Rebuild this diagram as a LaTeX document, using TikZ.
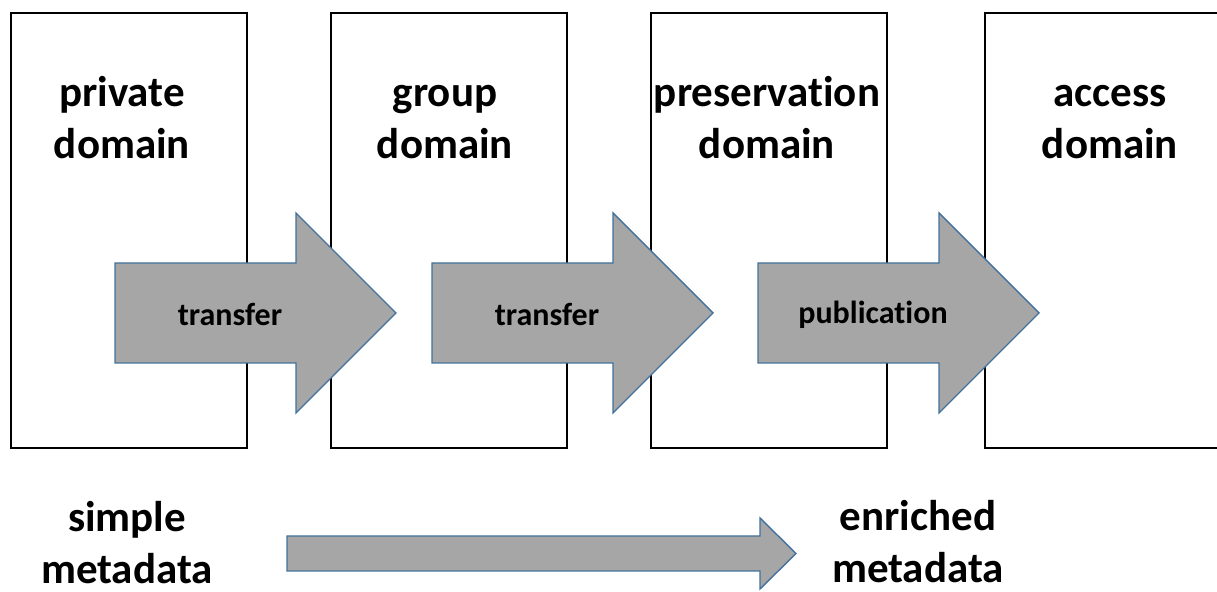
\documentclass[tikz,border=0pt]{standalone}
\usepackage{fontspec}
\setmainfont[RawFeature={-liga;-clig;-calt;-dlig}]{Carlito}
\usetikzlibrary{positioning}
\definecolor{arrowfill}{HTML}{A6A6A6}
\definecolor{arrowline}{HTML}{41719C}

\begin{document}
\begin{tikzpicture}[
        x=0.5pt, y=-0.5pt,
        domainbox/.style={rectangle, draw=black, line width=1.1pt, minimum width=118pt, minimum height=217.5pt, anchor=north west, inner sep=0pt},
        domainlabel/.style={align=center, anchor=base, inner sep=0pt, font=\fontsize{21.5}{26}\selectfont\bfseries},
        blockarrow/.style={draw=arrowline, fill=arrowfill, line width=0.7pt, line join=miter},
        arrowlabel/.style={inner sep=0pt, font=\fontsize{16}{19}\selectfont\bfseries}
    ]
    \useasboundingbox (0,0) rectangle (1217,592);

    % Domains
    \node[domainbox] (private) at (10,12) {};
    \node[domainbox] (group) at (330,12) {};
    \node[domainbox] (preservation) at (650,12) {};
    \node[domainbox] (access) at (984,12) {};

    \node[domainlabel] (private-label) at (122,159) {private\\domain};
    \node[domainlabel] (group-label) at (445,159) {group\\domain};
    \node[domainlabel] (preservation-label) at (767,159) {preservation\\domain};
    \node[domainlabel] (access-label) at (1110,159) {access\\domain};

    % Steps between domains
    \foreach \x/\name/\txt in {115/transfer-one/transfer, 432/transfer-two/transfer, 758/publication/publication}{
        \draw[blockarrow] (\x,263) -- ++(181,0) -- ++(0,-50) -- ++(100,100) -- ++(-100,100) -- ++(0,-50) -- ++(-181,0) -- cycle;
        \node[arrowlabel] (\name) at (\x+115,315) {\txt};
    }

    % Metadata
    \node[domainlabel] (simple) at (127,584) {simple\\metadata};
    \node[domainlabel] (enriched) at (918,583) {enriched\\metadata};
    \draw[blockarrow] (287,536) -- (760,536) -- (760,518) -- (796,553.5) -- (760,589) -- (760,571) -- (287,571) -- cycle;

\end{tikzpicture}
\end{document}
